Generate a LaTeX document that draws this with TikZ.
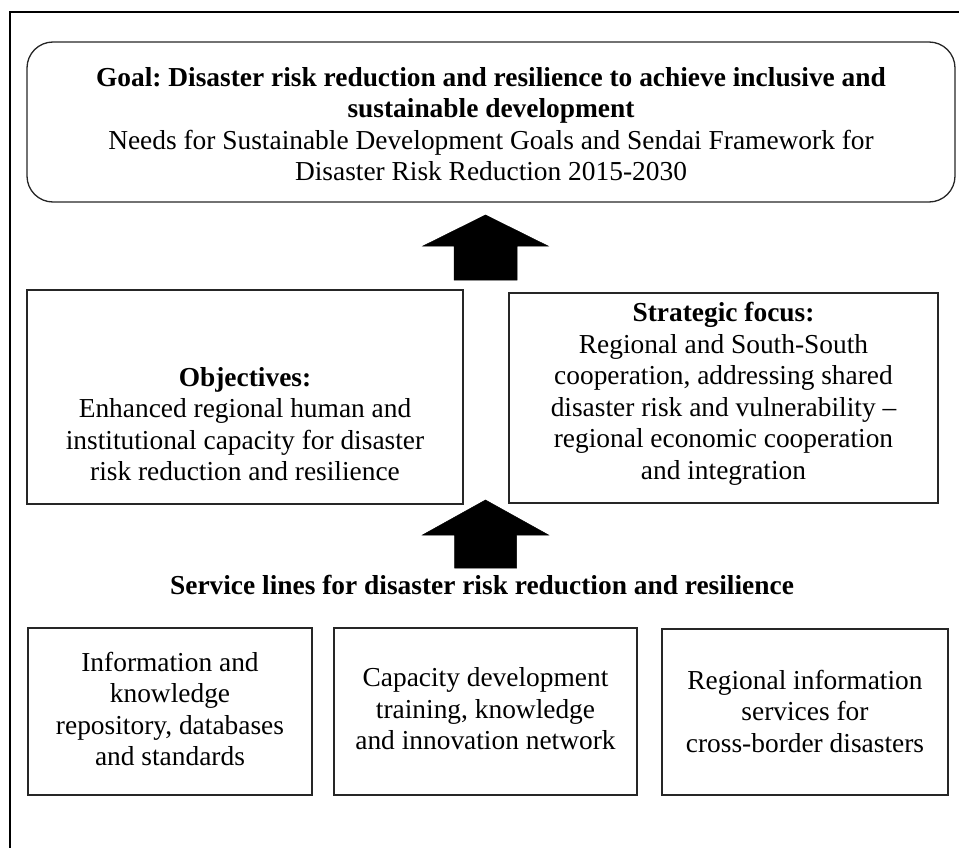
\documentclass[tikz,border=0pt]{standalone}
\usepackage{fontspec}
\setmainfont{Liberation Serif}
\newcommand{\fsz}{\fontsize{27.4}{31.5}\selectfont\frenchspacing}
\begin{document}
\begin{tikzpicture}[x=1pt,y=-1pt,
  box/.style={draw=black!85, line width=1.3pt, inner sep=0pt},
  txt/.style={align=center, font=\fsz, inner sep=0pt, text=black},
  blockarrow/.style={fill=black, draw=black, line width=0.5pt, line join=miter}]
\useasboundingbox (0,0) rectangle (959,848);
% outer frame (partly cut)
\draw[line width=1.2pt] (10,848) -- (10,12) -- (959,12);
% goal
\node[box, rounded corners=26pt, minimum width=928pt, minimum height=160pt] (goal) at (491,122) {};
\node[txt] (goaltxt) at (491,124) {\textbf{Goal: Disaster risk reduction and resilience to achieve inclusive and}\\\textbf{sustainable development}\\Needs for Sustainable Development Goals and Sendai Framework for\\Disaster Risk Reduction 2015-2030};
% middle boxes
\node[box, minimum width=436pt, minimum height=214pt] (obj) at (245,397) {};
\node[txt] (objtxt) at (245,424) {\textbf{Objectives:}\\Enhanced regional human and\\institutional capacity for disaster\\risk reduction and resilience};
\node[box, minimum width=429pt, minimum height=210pt] (strat) at (723.5,398) {};
\node[txt] (strattxt) at (723.5,394) {\textbf{Strategic focus:}\\Regional and South-South\\cooperation, addressing shared\\disaster risk and vulnerability --\\regional economic cooperation\\and integration};
% service lines
\node[txt] (svc) at (482,585) {\textbf{Service lines for disaster risk reduction and resilience}};
\node[box, minimum width=284pt, minimum height=167pt] (s1) at (170,711.5) {};
\node[txt] (s1txt) at (170,709) {Information and\\knowledge\\repository, databases\\and standards};
\node[box, minimum width=303pt, minimum height=167pt] (s2) at (485.5,711.5) {};
\node[txt] (s2txt) at (485.5,709) {Capacity development\\training, knowledge\\and innovation network};
\node[box, minimum width=286pt, minimum height=166pt] (s3) at (805,712) {};
\node[txt] (s3txt) at (805,711) {Regional information\\services for\\cross-border disasters};
% block arrows
\coordinate (ua) at (485.5,280);
\coordinate (la) at (485.5,568);
\fill[blockarrow] (ua) ++(-31.5,0) -- ++(0,-34) -- ++(-31,0) -- ++(62.5,-31) -- ++(62.5,31) -- ++(-31,0) -- ++(0,34) -- cycle;
\fill[blockarrow] (la) ++(-31,0) -- ++(0,-33) -- ++(-32,0) -- ++(63,-35) -- ++(63,35) -- ++(-32,0) -- ++(0,33) -- cycle;
\end{tikzpicture}
\end{document}
